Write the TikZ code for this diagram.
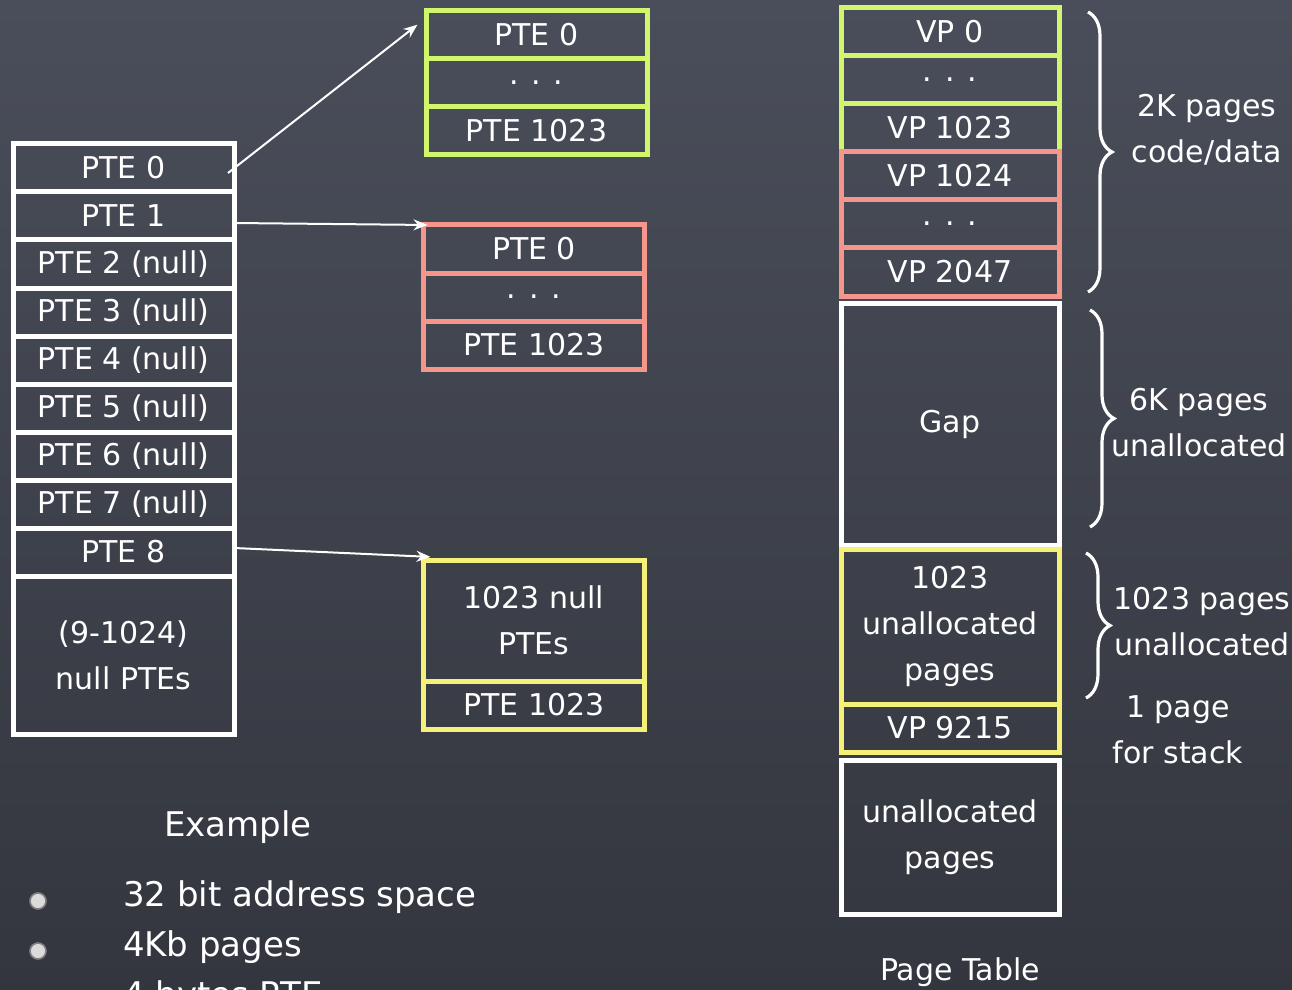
\documentclass[tikz,border=0pt]{standalone}
\usepackage{fontspec}
\setmainfont{DejaVu Sans}
\usepackage{tikz}
\usetikzlibrary{arrows.meta,positioning,decorations.pathreplacing}

\definecolor{bgtop}{HTML}{4A4E5A}
\definecolor{bgbot}{HTML}{33363E}
\definecolor{chalkgreen}{HTML}{D2F56E}
\definecolor{chalkred}{HTML}{F5968C}
\definecolor{chalkyellow}{HTML}{F5F078}
\newcommand{\boxfont}{\fontsize{15}{23}\selectfont}
\newcommand{\listfont}{\fontsize{17}{24}\selectfont}

\begin{document}
\begin{tikzpicture}[
        x=0.5pt, y=-0.5pt,
        >={Stealth[length=7pt,width=5.5pt]},
        node distance=0pt,
        every node/.style={text=white, font=\boxfont},
        cell/.style={draw=white, line width=2.5pt, minimum width=110.5pt,
            minimum height=24pt, inner sep=0pt, outer sep=0pt, align=center},
        gcell/.style={cell, draw=chalkgreen},
        rcell/.style={cell, draw=chalkred},
        ycell/.style={cell, draw=chalkyellow},
        vwide/.style={minimum width=109pt},
        link/.style={->, draw=white, line width=1pt, shorten >=1pt},
        brace/.style={draw=white, line width=1.6pt,
            decorate, decoration={brace, amplitude=12pt}},
        pip/.style={circle, fill=white!72!gray, draw=gray, line width=0.8pt,
            minimum size=8pt, inner sep=0pt}
    ]

    \shade[top color=bgtop, bottom color=bgbot] (0,0) rectangle (1292,990);
    \useasboundingbox (0,0) rectangle (1292,990);

%%
% Page directory: one PTE per page of the page table
    \node (d0) [cell] at (123.5,168) {PTE 0};
    \node (d1) [cell,below=of d0] {PTE 1};
    \node (d2) [cell,below=of d1] {PTE 2 (null)};
    \node (d3) [cell,below=of d2] {PTE 3 (null)};
    \node (d4) [cell,below=of d3] {PTE 4 (null)};
    \node (d5) [cell,below=of d4] {PTE 5 (null)};
    \node (d6) [cell,below=of d5] {PTE 6 (null)};
    \node (d7) [cell,below=of d6] {PTE 7 (null)};
    \node (d8) [cell,below=of d7] {PTE 8};
    \node (d9) [cell,below=of d8,minimum height=79pt] {(9-1024)\\null PTEs};

%%
% Second level page tables
    \node (g0) [gcell] at (536.5,34.5) {PTE 0};
    \node (g1) [gcell,below=of g0] {. . .};
    \node (g2) [gcell,below=of g1] {PTE 1023};

    \node (r0) [rcell] at (534,249) {PTE 0};
    \node (r1) [rcell,below=of r0] {. . .};
    \node (r2) [rcell,below=of r1] {PTE 1023};

    \node (y0) [ycell,minimum height=60.5pt] at (534,620.5) {1023 null\\PTEs};
    \node (y1) [ycell,below=of y0] {PTE 1023};

    \draw[link] ([xshift=-3pt,yshift=-2.5pt]d0.east) -- ([xshift=-3.5pt,yshift=-6.5pt]g0.north west);
    \draw[link] ([yshift=-3.5pt]d1.east) -- ([xshift=3pt]r0.north west);
    \draw[link] ([yshift=2pt]d8.east) -- ([xshift=4.5pt,yshift=1.5pt]y0.north west);

%%
% Virtual pages of the address space
    \node (v0) [gcell,vwide] at (950,32) {VP 0};
    \node (v1) [gcell,vwide,below=of v0] {. . .};
    \node (v2) [gcell,vwide,below=of v1] {VP 1023};
    \node (v3) [rcell,vwide,below=of v2] {VP 1024};
    \node (v4) [rcell,vwide,below=of v3] {. . .};
    \node (v5) [rcell,vwide,below=of v4] {VP 2047};
    \node (gap) [cell,vwide,minimum height=121pt,below=3.5pt of v5] {Gap};
    \node (u0) [ycell,vwide,minimum height=77.5pt,below=2pt of gap] {1023\\unallocated\\pages};
    \node (u1) [ycell,vwide,below=of u0] {VP 9215};
    \node (u2) [cell,vwide,minimum height=77pt,below=4pt of u1] {unallocated\\pages};
    \node (ptlbl) at (960,972) {Page Table};

%%
% Braces and notes on the right
    \draw[brace] (1088,12) -- (1088,292);
    \draw[brace] (1090,310) -- (1090,527);
    \draw[brace] (1086,553) -- (1086,698);
    \node (codelbl) [align=center] at (1207,130) {2K pages\\code/data};
    \node (gaplbl) [align=center] at (1199,423) {6K pages\\unallocated};
    \node (freelbl) [align=center] at (1202,622) {1023 pages\\unallocated};
    \node (stacklbl) [align=center] at (1178,730) {1 page\\for stack};

%%
% Example list
    \node (exlbl) [font=\listfont] at (238,827) {Example};
    \node (p1) [pip] at (38,901) {};
    \node (p2) [pip] at (38,951) {};
    \node (p3) [pip] at (38,1001) {};
    \node (t1) [font=\listfont,anchor=west] at (116,897) {32 bit address space};
    \node (t2) [font=\listfont,anchor=west] at (116,947) {4Kb pages};
    \node (t3) [font=\listfont,anchor=west] at (116,997) {4 bytes PTE};

\end{tikzpicture}
\end{document}
